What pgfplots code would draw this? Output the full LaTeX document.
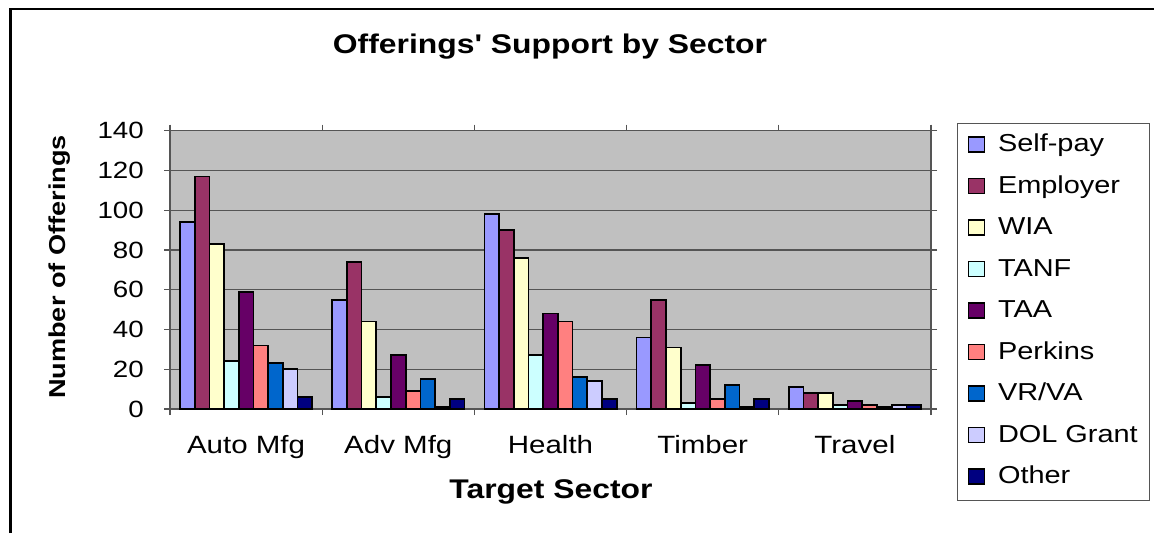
\documentclass[border=0pt]{standalone}
\usepackage{fontspec}
\setmainfont{Liberation Sans}[FakeStretch=1.18, Ligatures=TeXOff]
\usepackage{pgfplots}
\pgfplotsset{compat=1.18}
\definecolor{cSelf}{HTML}{9999FF}
\definecolor{cEmp}{HTML}{993366}
\definecolor{cWIA}{HTML}{FFFFCC}
\definecolor{cTANF}{HTML}{CCFFFF}
\definecolor{cTAA}{HTML}{660066}
\definecolor{cPerk}{HTML}{FF8080}
\definecolor{cVR}{HTML}{0066CC}
\definecolor{cDOL}{HTML}{CCCCFF}
\definecolor{cOther}{HTML}{000080}
\definecolor{plotbg}{HTML}{C0C0C0}
\definecolor{gridc}{HTML}{555555}
\begin{document}
\begin{tikzpicture}
\useasboundingbox (0,0) rectangle (1154pt,533pt);
\fill[white] (0,0) rectangle (1154pt,533pt);
\draw[line width=2.2pt] (10.5pt,0) -- (10.5pt,523.7pt) -- (1154pt,523.7pt);
\begin{axis}[
  at={(170pt,124pt)}, anchor=south west,
  width=761pt, height=278.3pt, scale only axis,
  axis background/.style={fill=plotbg},
  xmin=-0.5, xmax=4.5, ymin=0, ymax=140,
  ytick={0,20,...,140},
  xtick={0,1,2,3,4},
  xticklabels={Auto Mfg,Adv Mfg,Health,Timber,Travel},
  minor xtick={-0.5,0.5,1.5,2.5,3.5,4.5},
  tick align=outside,
  major tick length=6pt, minor tick length=6pt,
  x tick style={draw=none},
  minor x tick style={draw=gridc, line width=1.2pt},
  y tick style={draw=gridc, line width=1.2pt},
  axis line style={draw=gridc, line width=1.3pt},
  ymajorgrids, grid style={draw=gridc, line width=1.3pt},
  /pgf/number format/assume math mode=true,
  yticklabel style={font=\fontsize{23.5}{23.5}\selectfont, anchor=east, inner sep=0pt, xshift=-20pt},
  xticklabel style={font=\fontsize{25}{25}\selectfont, anchor=base, inner sep=0pt, yshift=-38pt},
  ybar=0pt, bar width=14.7pt,
  every axis plot/.append style={draw=black, line width=1.7pt},
  legend style={at={(1.0342,1.0277)}, anchor=north west, draw=gridc, line width=1pt,
    font=\fontsize{24.5}{24.5}\selectfont, row sep=17.5pt,
    inner xsep=10pt, inner ysep=10.5pt,
    nodes={text height=17pt, text depth=5pt, inner ysep=1pt, inner xsep=2pt}},
  legend cell align=left,
  legend image code/.code={\draw[#1, line width=1.3pt] (0pt,-6pt) rectangle (16pt,9pt); \path (27pt,0pt);},
  clip=false,
]
\addplot[fill=cSelf] coordinates {(0,94) (1,55) (2,98) (3,36) (4,11)};
\addplot[fill=cEmp] coordinates {(0,117) (1,74) (2,90) (3,55) (4,8)};
\addplot[fill=cWIA] coordinates {(0,83) (1,44) (2,76) (3,31) (4,8)};
\addplot[fill=cTANF] coordinates {(0,24) (1,6) (2,27) (3,3) (4,2)};
\addplot[fill=cTAA] coordinates {(0,59) (1,27) (2,48) (3,22) (4,4)};
\addplot[fill=cPerk] coordinates {(0,32) (1,9) (2,44) (3,5) (4,2)};
\addplot[fill=cVR] coordinates {(0,23) (1,15) (2,16) (3,12) (4,1)};
\addplot[fill=cDOL] coordinates {(0,20) (1,1) (2,14) (3,1) (4,2)};
\addplot[fill=cOther] coordinates {(0,6) (1,5) (2,5) (3,5) (4,2)};
\legend{Self-pay,Employer,WIA,TANF,TAA,Perkins,VR/VA,DOL Grant,Other}
\end{axis}
\node[font=\bfseries\fontsize{27}{27}\selectfont] at (550pt,486pt) {Offerings' Support by Sector};
\node[font=\bfseries\fontsize{23}{23}\selectfont, rotate=90] at (60pt,266pt) {Number of Offerings};
\node[font=\bfseries\fontsize{27}{27}\selectfont] at (551pt,41pt) {Target Sector};
\end{tikzpicture}
\end{document}
